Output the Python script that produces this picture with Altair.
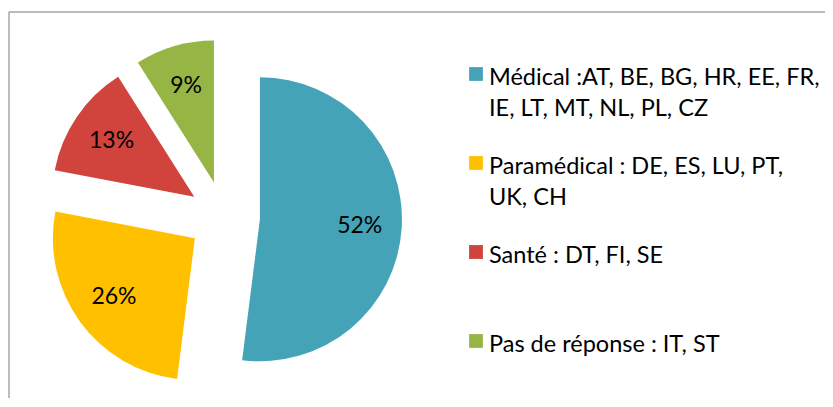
import altair as alt
import pandas as pd

categories = ["Médical", "Paramédical", "Santé", "Pas de réponse"]
values = [52, 26, 13, 9]
pct_labels = ["52%", "26%", "13%", "9%"]
legend_lines = [
    ["Médical :AT, BE, BG, HR, EE, FR,", "IE, LT, MT, NL, PL, CZ"],
    ["Paramédical : DE, ES, LU, PT,", "UK, CH"],
    ["Santé : DT, FI, SE"],
    ["Pas de réponse : IT, ST"],
]
colors = ["#45A3B8", "#FFC000", "#D0443D", "#97B545"]

FONT = "Lato"
CX, CY, R, EXPLODE, LABEL_R = 216, 209, 142, 36, 100

df = pd.DataFrame({"cat": categories, "value": values, "pct": pct_labels,
                   "order": list(range(len(categories)))})
leg = pd.DataFrame({"cat": categories, "lines": legend_lines})

color = alt.Color("cat:N", scale=alt.Scale(domain=categories, range=colors), legend=None)

base = alt.Chart(df).transform_joinaggregate(
    total="sum(value)"
).transform_window(
    cum="sum(value)", sort=[alt.SortField("order")], frame=[None, 0]
).transform_calculate(
    a0="2*PI*(datum.cum - datum.value)/datum.total"
).transform_calculate(
    a1="2*PI*datum.cum/datum.total"
).transform_calculate(
    mid="(datum.a0 + datum.a1)/2"
).transform_calculate(
    cx=f"{CX} + {EXPLODE}*sin(datum.mid)"
).transform_calculate(
    cy=f"{CY} - {EXPLODE}*cos(datum.mid)"
).transform_calculate(
    lx=f"datum.cx + {LABEL_R}*sin(datum.mid)"
).transform_calculate(
    ly=f"datum.cy - {LABEL_R}*cos(datum.mid)"
)

arcs = base.mark_arc(radius=R).encode(
    theta=alt.Theta("a0:Q", scale=None, stack=None),
    theta2="a1:Q",
    x=alt.X("cx:Q", scale=None),
    y=alt.Y("cy:Q", scale=None),
    color=color,
)

labels = base.mark_text(font=FONT, fontSize=23, color="black",
                        align="center", baseline="middle").encode(
    x=alt.X("lx:Q", scale=None),
    y=alt.Y("ly:Q", scale=None),
    text="pct:N",
)

legy = alt.Y("cat:N", scale=alt.Scale(type="point", domain=categories,
                                      range=[77, 344], padding=0), axis=None)

squares = alt.Chart(leg).mark_square(size=190, opacity=1, yOffset=-11).encode(
    x=alt.value(468), y=legy, color=color
)
texts = alt.Chart(leg).mark_text(align="left", baseline="alphabetic", font=FONT,
                                 fontSize=23.5, lineHeight=31, color="black").encode(
    x=alt.value(481), y=legy, text="lines:N"
)

frame_df = pd.DataFrame({"k": [0]})
top = alt.Chart(frame_df).mark_rule(color="#A6A6A6", strokeWidth=1.5).encode(
    x=alt.value(1), x2=alt.value(830), y=alt.value(4)
)
left = alt.Chart(frame_df).mark_rule(color="#A6A6A6", strokeWidth=1.5).encode(
    x=alt.value(1), y=alt.value(4), y2=alt.value(400)
)

chart = alt.layer(top, left, arcs, labels, squares, texts).resolve_scale(
    x="independent", y="independent"
).properties(
    width=817, height=390, padding=0, autosize="none"
).configure_view(strokeWidth=0)

chart.save("out.html", embed_options={"renderer": "svg", "actions": False})
